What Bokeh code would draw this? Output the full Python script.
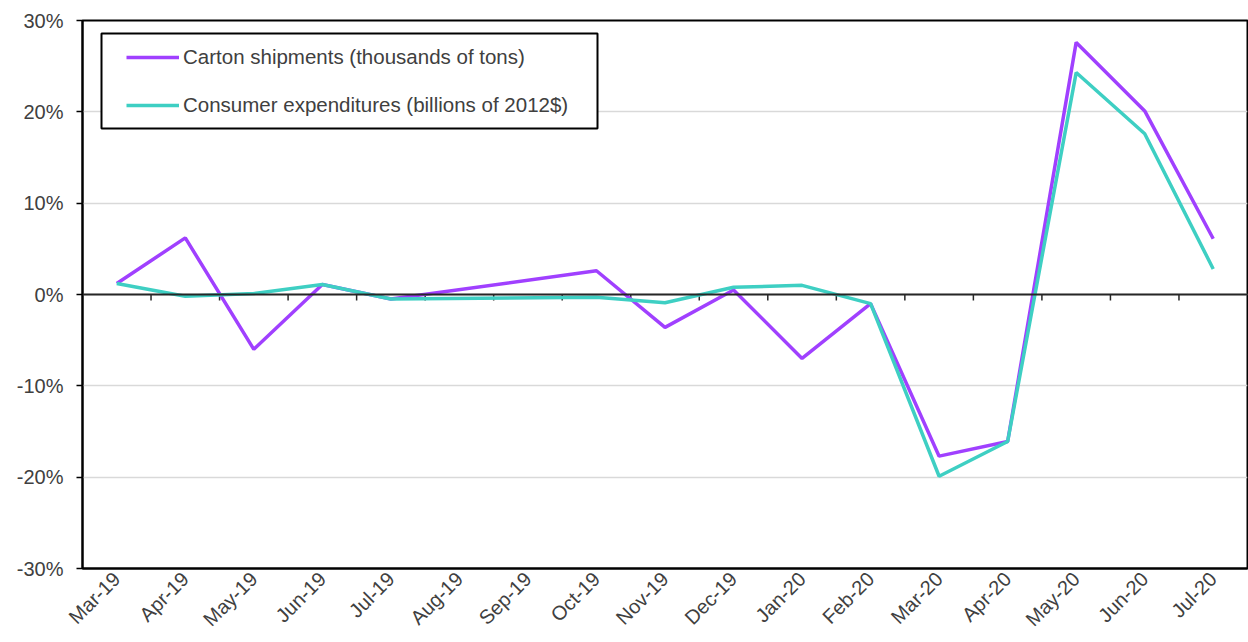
import math
from bokeh.plotting import figure
from bokeh.models import (Range1d, FixedTicker, Legend, LegendItem, ColumnDataSource,
                          Span, BoxAnnotation, Node)
from bokeh.embed import file_html
from bokeh.resources import INLINE

# Monthly year-over-year change, %
months = ["Mar-19", "Apr-19", "May-19", "Jun-19", "Jul-19", "Aug-19", "Sep-19",
          "Oct-19", "Nov-19", "Dec-19", "Jan-20", "Feb-20", "Mar-20", "Apr-20",
          "May-20", "Jun-20", "Jul-20"]
carton = [1.2, 6.2, -6.0, 1.1, -0.5, None, None, 2.6, -3.6, 0.5, -7.0, -1.0,
          -17.7, -16.1, 27.6, 20.1, 6.1]
consumer = [1.2, -0.2, 0.1, 1.1, -0.5, None, None, -0.3, -0.9, 0.8, 1.0, -1.0,
            -19.9, -16.1, 24.3, 17.6, 2.8]
y_ticks = [-30, -20, -10, 0, 10, 20, 30]

FONT = "Liberation Sans"
TEXT = "#404040"
PURPLE = "#A040FF"
TEAL = "#3ECFC3"
Y_MIN, Y_MAX = -30, 30


def series(vals):
    # months without a value are skipped so the line joins its neighbours
    xs = [i for i, v in enumerate(vals) if v is not None]
    ys = [v for v in vals if v is not None]
    return ColumnDataSource(dict(x=xs, y=ys))


p = figure(width=1248, height=642, output_backend="svg", toolbar_location=None,
           x_range=Range1d(-0.5, len(months) - 0.5), y_range=Range1d(Y_MIN, Y_MAX),
           min_border_left=82, min_border_right=1, min_border_top=20,
           min_border_bottom=74)
p.background_fill_color = "white"
p.border_fill_color = "white"
p.outline_line_color = "black"
p.outline_line_width = 2

# grid
p.xgrid.visible = False
p.ygrid.ticker = FixedTicker(ticks=y_ticks)
p.ygrid.grid_line_color = "#D9D9D9"
p.ygrid.grid_line_width = 1.5

# y axis
p.yaxis.ticker = FixedTicker(ticks=y_ticks)
p.yaxis.major_label_overrides = {t: f"{t}%" for t in y_ticks}
p.yaxis.axis_line_color = "black"
p.yaxis.axis_line_width = 2
p.yaxis.major_tick_line_color = "black"
p.yaxis.major_tick_line_width = 1.5
p.yaxis.major_tick_in = 0
p.yaxis.major_tick_out = 6
p.yaxis.minor_tick_line_color = None
p.yaxis.major_label_text_font = FONT
p.yaxis.major_label_text_font_size = "20px"
p.yaxis.major_label_text_color = TEXT
p.yaxis.major_label_standoff = 13

# x axis: rotated month labels along the bottom, no tick marks
p.xaxis.ticker = FixedTicker(ticks=list(range(len(months))))
p.xaxis.major_label_overrides = {i: m for i, m in enumerate(months)}
p.xaxis.major_label_orientation = math.pi / 4
p.xaxis.axis_line_color = "black"
p.xaxis.axis_line_width = 2
p.xaxis.major_tick_line_color = None
p.xaxis.major_tick_in = 0
p.xaxis.major_tick_out = 0
p.xaxis.minor_tick_line_color = None
p.xaxis.major_label_text_font = FONT
p.xaxis.major_label_text_font_size = "20px"
p.xaxis.major_label_text_color = TEXT
p.xaxis.major_label_standoff = 7

# zero line with tick marks between months
p.add_layout(Span(location=0, dimension="width", line_color="#262626", line_width=2))
bounds = [i + 0.5 for i in range(len(months) - 1)]
p.ray(x=bounds, y=[0] * len(bounds), length=6, length_units="screen",
      angle=-math.pi / 2, line_color="#262626", line_width=1.5)

r1 = p.line("x", "y", source=series(carton), line_color=PURPLE, line_width=3.5)
r2 = p.line("x", "y", source=series(consumer), line_color=TEAL, line_width=3.5)

# legend frame, placed relative to the plot frame in pixels
box = BoxAnnotation(
    left=Node(target="frame", symbol="left", offset=19),
    right=Node(target="frame", symbol="left", offset=515),
    top=Node(target="frame", symbol="top", offset=13),
    bottom=Node(target="frame", symbol="top", offset=108),
    fill_color="white", fill_alpha=1,
    line_color="black", line_width=2, line_alpha=1,
)
p.add_layout(box)

legend = Legend(items=[
    LegendItem(label="Carton shipments (thousands of tons)", renderers=[r1]),
    LegendItem(label="Consumer expenditures (billions of 2012$)", renderers=[r2]),
], location=(44, 451))
legend.border_line_color = None
legend.background_fill_alpha = 0
legend.padding = 0
legend.spacing = 24
legend.glyph_width = 53
legend.glyph_height = 24
legend.label_height = 24
legend.label_standoff = 4
legend.margin = 0
legend.label_text_font = FONT
legend.label_text_font_size = "20.5px"
legend.label_text_color = TEXT
p.add_layout(legend, "center")

open("out.html", "w").write(file_html(p, INLINE))
